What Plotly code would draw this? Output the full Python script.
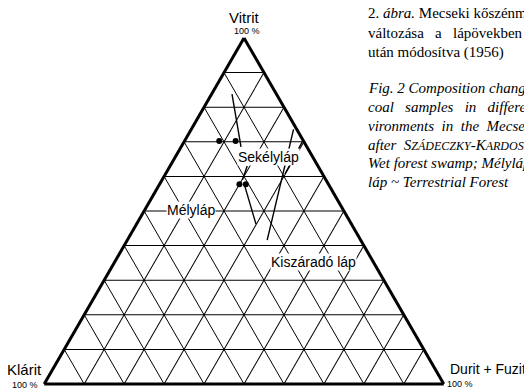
import plotly.graph_objects as go

# ternary values in percent: Vitrit (a), Klárit (b), Durit + Fuzit (c)
dot_vitrit = [70.2, 70.2, 57.7, 57.7]
dot_klarit = [21.1, 17.0, 22.3, 20.7]
dot_durit = [8.7, 12.8, 20.0, 21.6]

# each line segment: start and end
line_vitrit = [[83.8, 68.5], [63.0, 59.0], [57.2, 46.2], [73.6, 41.6], [69.9, 60.7]]
line_klarit = [[11.1, 16.5], [17.7, 20.9], [21.2, 23.9], [0.8, 23.4], [0.5, 9.4]]
line_durit = [[5.1, 15.0], [19.3, 20.1], [21.6, 29.9], [25.6, 35.0], [29.6, 29.9]]

zone_labels = ["Sekélyláp", "Mélyláp", "Kiszáradó láp"]
zone_x = [268, 191, 313]
zone_y = [157, 210, 262]

caption_hu = ["2. <i>ábra.</i> Mecseki kőszénminták összetételének",
              "változása&nbsp;&nbsp; a&nbsp;&nbsp; lápövekben",
              "után módosítva (1956)"]
caption_en = ["Fig. 2 Composition change of",
              "coal&nbsp;&nbsp; samples&nbsp;&nbsp; in&nbsp;&nbsp; different en-",
              "vironments&nbsp; in&nbsp; the&nbsp; Mecsek",
              "after&nbsp; S<span style='font-size:12px'>ZÁDECZKY</span>-K<span style='font-size:12px'>ARDOSS</span>",
              "Wet forest swamp; Mélyláp",
              "láp ~ Terrestrial Forest"]
caption_hu_y = [13, 33, 52]
caption_en_y = [88, 107, 126, 145, 163, 182]

W, H = 532, 389
OFF = 8  # page body margin


def px(x):
    return (x - OFF) / W


def py(y):
    return 1 - (y - OFF) / H


fig = go.Figure()

for va, kb, dc in zip(line_vitrit, line_klarit, line_durit):
    fig.add_trace(go.Scatterternary(
        a=va, b=kb, c=dc, mode='lines',
        line=dict(color='black', width=1.4),
        showlegend=False, hoverinfo='skip'))

fig.add_trace(go.Scatterternary(
    a=dot_vitrit, b=dot_klarit, c=dot_durit, mode='markers',
    marker=dict(color='black', size=6),
    showlegend=False))

axis_style = dict(title=dict(text=''), showticklabels=False, ticks='',
                  dtick=10, linecolor='black', linewidth=3,
                  gridcolor='black', gridwidth=1, showgrid=True)

cx, cy = px(244), py(211)
hw, hh = 200 / W, 173 / H
fig.update_layout(
    width=W, height=H,
    margin=dict(l=0, r=0, t=0, b=0),
    paper_bgcolor='white',
    font=dict(family='Liberation Sans, Arial', color='black'),
    ternary=dict(
        sum=100,
        bgcolor='white',
        domain=dict(x=[cx - hw, cx + hw], y=[cy - hh, cy + hh]),
        aaxis=axis_style, baxis=axis_style, caxis=axis_style))

anns = []
# corner labels
anns.append(dict(x=244, y=17, text='Vitrit', size=15))
anns.append(dict(x=247, y=31, text='100 %', size=9))
anns.append(dict(x=24, y=369, text='Klárit', size=15))
anns.append(dict(x=25, y=385, text='100 %', size=9))
anns.append(dict(x=488, y=369, text='Durit + Fuzit', size=14))
anns.append(dict(x=460, y=384, text='100 %', size=9))
for a in anns:
    fig.add_annotation(x=px(a['x']), y=py(a['y']), xref='paper', yref='paper',
                       text=a['text'], showarrow=False, xanchor='center', yanchor='middle',
                       font=dict(size=a['size'], family='Liberation Sans, Arial'))

for t, x, y in zip(zone_labels, zone_x, zone_y):
    fig.add_annotation(x=px(x), y=py(y), xref='paper', yref='paper',
                       text=t, showarrow=False, xanchor='center', yanchor='middle',
                       bgcolor='white', borderpad=0,
                       font=dict(size=14, family='Liberation Sans, Arial'))

for t, y in zip(caption_hu, caption_hu_y):
    fig.add_annotation(x=px(366), y=py(y), xref='paper', yref='paper',
                       text=t, showarrow=False, xanchor='left', yanchor='middle',
                       font=dict(size=15, family='Liberation Serif, serif'))
for t, y in zip(caption_en, caption_en_y):
    fig.add_annotation(x=px(366), y=py(y), xref='paper', yref='paper',
                       text='<i>' + t + '</i>', showarrow=False, xanchor='left', yanchor='middle',
                       font=dict(size=15, family='Liberation Serif, serif'))

fig.write_html("out.html")
